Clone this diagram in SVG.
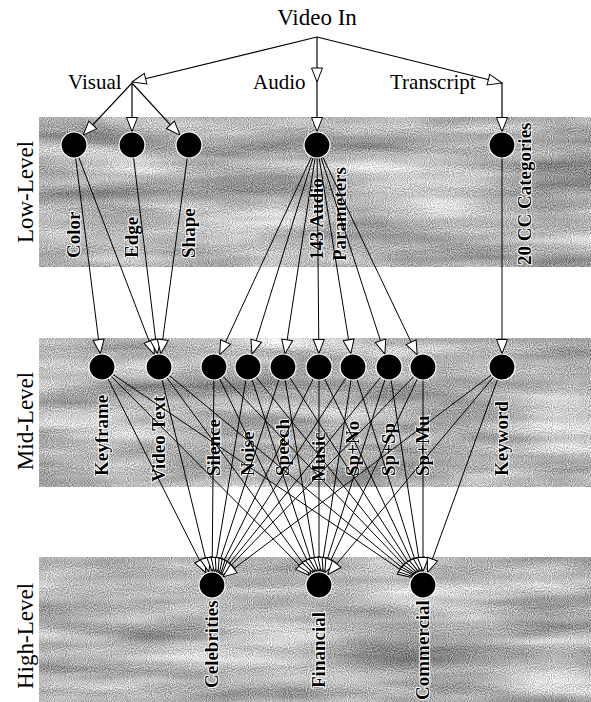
<svg xmlns="http://www.w3.org/2000/svg" width="591" height="702" viewBox="0 0 591 702">
<style>
.t{font-family:"Liberation Serif","Times New Roman",serif;fill:#000}
.top{font-size:21px}
.lvl{font-size:23px}
.nl{font-size:19px;font-weight:bold;stroke:#fff;stroke-width:2px;paint-order:stroke;stroke-linejoin:round}
.n{fill:#000;stroke:#fff;stroke-width:1.2}
.c line{stroke:#000;stroke-width:1;fill:none;marker-end:url(#ah)}
.c .p{stroke-width:1.2}
.band{fill:#b0b0b0;filter:url(#tex)}
</style>
<defs>
<marker id="ah" markerWidth="16" markerHeight="14" refX="14.5" refY="6" orient="auto" markerUnits="userSpaceOnUse" overflow="visible">
<path d="M0.5,0.5 L14.5,6 L0.5,11.5 Z" fill="#fff" stroke="#000" stroke-width="1"/>
</marker>
<filter id="tex" x="0" y="0" width="100%" height="100%" color-interpolation-filters="sRGB">
<feTurbulence type="fractalNoise" baseFrequency="0.006 0.045" numOctaves="3" seed="4" result="s"/>
<feColorMatrix in="s" type="matrix" values="1 0 0 0 0 1 0 0 0 0 1 0 0 0 0 0 0 0 0 1" result="sg"/>
<feTurbulence type="fractalNoise" baseFrequency="0.95" numOctaves="1" seed="9" result="g"/>
<feColorMatrix in="g" type="matrix" values="1 0 0 0 0 1 0 0 0 0 1 0 0 0 0 0 0 0 0 1" result="gg"/>
<feComposite in="sg" in2="gg" operator="arithmetic" k1="0" k2="0.6" k3="0.8" k4="0.0" result="m"/>
<feComposite in="m" in2="SourceGraphic" operator="in"/>
</filter>
</defs>
<rect width="591" height="702" fill="#fff"/>
<g id="bands">
<rect class="band" x="39" y="117" width="552" height="150"/>
<rect class="band" x="39" y="338" width="552" height="149"/>
<rect class="band" x="39" y="557" width="552" height="145"/>
</g>
<g id="level-labels">
<text class="t lvl" transform="translate(33,192) rotate(-90)" text-anchor="middle">Low-Level</text>
<text class="t lvl" transform="translate(33,421) rotate(-90)" text-anchor="middle">Mid-Level</text>
<text class="t lvl" transform="translate(33,636) rotate(-90)" text-anchor="middle">High-Level</text>
</g>
<g id="node-video-in"><text class="t" x="317" y="25" font-size="23" text-anchor="middle">Video In</text></g>
<g id="node-visual"><text class="t top" x="68" y="89">Visual</text></g>
<g id="node-audio"><text class="t top" x="253" y="89">Audio</text></g>
<g id="node-transcript"><text class="t top" x="390" y="89">Transcript</text></g>
<g id="labels">
<text class="t nl" transform="translate(80,258) rotate(-90)">Color</text>
<text class="t nl" transform="translate(138,258) rotate(-90)">Edge</text>
<text class="t nl" transform="translate(195,258) rotate(-90)">Shape</text>
<text class="t nl" transform="translate(323,260) rotate(-90)">143 Audio</text>
<text class="t nl" transform="translate(346,261) rotate(-90)">Parameters</text>
<text class="t nl" transform="translate(531,265) rotate(-90)">20 CC Categories</text>
<text class="t nl" transform="translate(108,476) rotate(-90)">Keyframe</text>
<text class="t nl" transform="translate(165,482) rotate(-90)">Video Text</text>
<text class="t nl" transform="translate(220,476) rotate(-90)">Silence</text>
<text class="t nl" transform="translate(254,476) rotate(-90)">Noise</text>
<text class="t nl" transform="translate(289,476) rotate(-90)">Speech</text>
<text class="t nl" transform="translate(325,482) rotate(-90)">Music</text>
<text class="t nl" transform="translate(359,476) rotate(-90)">Sp+No</text>
<text class="t nl" transform="translate(395,476) rotate(-90)">Sp+Sp</text>
<text class="t nl" transform="translate(429,476) rotate(-90)">Sp+Mu</text>
<text class="t nl" transform="translate(508,476) rotate(-90)">Keyword</text>
<text class="t nl" transform="translate(218,688) rotate(-90)">Celebrities</text>
<text class="t nl" transform="translate(325,688) rotate(-90)">Financial</text>
<text class="t nl" transform="translate(429,700) rotate(-90)">Commercial</text>
</g>
<g id="connectors" class="c">
<line class="p" x1="317" y1="37" x2="132" y2="82"/>
<line class="p" x1="317" y1="37" x2="317" y2="82"/>
<line class="p" x1="317" y1="37" x2="502" y2="83"/>
<line class="p" x1="132" y1="83" x2="83.2" y2="135.1"/>
<line class="p" x1="132" y1="83" x2="132" y2="131.5"/>
<line class="p" x1="132" y1="83" x2="179.9" y2="135.1"/>
<line class="p" x1="317" y1="82" x2="317" y2="131.5"/>
<line class="p" x1="502" y1="83" x2="502" y2="131.5"/>
<line x1="74" y1="145" x2="100.31" y2="353.61"/>
<line x1="74" y1="145" x2="154.17" y2="354.39"/>
<line x1="132" y1="145" x2="157.37" y2="353.6"/>
<line x1="189" y1="145" x2="160.81" y2="353.62"/>
<line x1="317" y1="145" x2="219.68" y2="354.75"/>
<line x1="317" y1="145" x2="252.01" y2="354.11"/>
<line x1="317" y1="145" x2="285.04" y2="353.66"/>
<line x1="317" y1="145" x2="318.88" y2="353.5"/>
<line x1="317" y1="145" x2="350.84" y2="353.67"/>
<line x1="317" y1="145" x2="384.84" y2="354.16"/>
<line x1="317" y1="145" x2="417.18" y2="354.82"/>
<line x1="502" y1="145" x2="502" y2="353.5"/>
<line x1="102" y1="367" x2="205.92" y2="572.95"/>
<line x1="102" y1="367" x2="309.48" y2="575.43"/>
<line x1="102" y1="367" x2="411.83" y2="577.41"/>
<line x1="159" y1="367" x2="208.81" y2="571.88"/>
<line x1="159" y1="367" x2="311.01" y2="574.12"/>
<line x1="159" y1="367" x2="412.59" y2="576.4"/>
<line x1="214" y1="367" x2="212.12" y2="571.5"/>
<line x1="214" y1="367" x2="313.14" y2="572.84"/>
<line x1="214" y1="367" x2="413.66" y2="575.25"/>
<line x1="248" y1="367" x2="214.2" y2="571.68"/>
<line x1="248" y1="367" x2="314.82" y2="572.16"/>
<line x1="248" y1="367" x2="414.55" y2="574.47"/>
<line x1="283" y1="367" x2="216.18" y2="572.16"/>
<line x1="283" y1="367" x2="316.8" y2="571.68"/>
<line x1="283" y1="367" x2="415.7" y2="573.64"/>
<line x1="319" y1="367" x2="217.95" y2="572.88"/>
<line x1="319" y1="367" x2="319" y2="571.5"/>
<line x1="319" y1="367" x2="417.19" y2="572.82"/>
<line x1="353" y1="367" x2="219.33" y2="573.66"/>
<line x1="353" y1="367" x2="321.08" y2="571.66"/>
<line x1="353" y1="367" x2="418.87" y2="572.15"/>
<line x1="389" y1="367" x2="220.51" y2="574.52"/>
<line x1="389" y1="367" x2="323.13" y2="572.15"/>
<line x1="389" y1="367" x2="420.92" y2="571.66"/>
<line x1="423" y1="367" x2="221.39" y2="575.3"/>
<line x1="423" y1="367" x2="324.81" y2="572.82"/>
<line x1="423" y1="367" x2="423" y2="571.5"/>
<line x1="502" y1="367" x2="222.79" y2="576.89"/>
<line x1="502" y1="367" x2="327.68" y2="574.66"/>
<line x1="502" y1="367" x2="427.6" y2="572.31"/>
</g>
<g id="node-color"><circle class="n" cx="74" cy="145" r="13"/></g>
<g id="node-edge"><circle class="n" cx="132" cy="145" r="13"/></g>
<g id="node-shape"><circle class="n" cx="189" cy="145" r="13"/></g>
<g id="node-audio-params"><circle class="n" cx="317" cy="145" r="13"/></g>
<g id="node-cc"><circle class="n" cx="502" cy="145" r="13"/></g>
<g id="node-keyframe"><circle class="n" cx="102" cy="367" r="13"/></g>
<g id="node-videotext"><circle class="n" cx="159" cy="367" r="13"/></g>
<g id="node-silence"><circle class="n" cx="214" cy="367" r="13"/></g>
<g id="node-noise"><circle class="n" cx="248" cy="367" r="13"/></g>
<g id="node-speech"><circle class="n" cx="283" cy="367" r="13"/></g>
<g id="node-music"><circle class="n" cx="319" cy="367" r="13"/></g>
<g id="node-spno"><circle class="n" cx="353" cy="367" r="13"/></g>
<g id="node-spsp"><circle class="n" cx="389" cy="367" r="13"/></g>
<g id="node-spmu"><circle class="n" cx="423" cy="367" r="13"/></g>
<g id="node-keyword"><circle class="n" cx="502" cy="367" r="13"/></g>
<g id="node-celebrities"><circle class="n" cx="212" cy="585" r="13"/></g>
<g id="node-financial"><circle class="n" cx="319" cy="585" r="13"/></g>
<g id="node-commercial"><circle class="n" cx="423" cy="585" r="13"/></g>
</svg>
